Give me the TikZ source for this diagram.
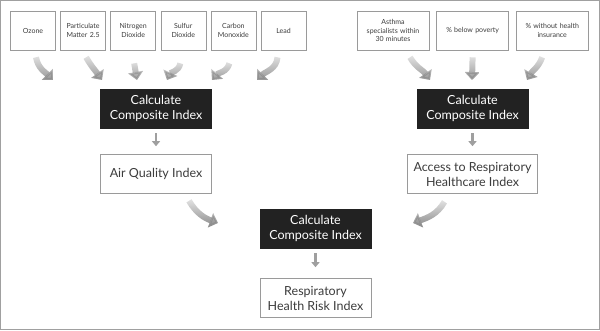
\documentclass[tikz,border=0pt]{standalone}
\usepackage{fontspec}
\setmainfont{Lato}
\usepackage{tikz}
\usetikzlibrary{
arrows.meta,
positioning,
fadings
}
\definecolor{framegray}{HTML}{A0A0A0}
\definecolor{boxline}{HTML}{9A9A9A}
\definecolor{boxtext}{HTML}{3C3C3C}
\definecolor{darkfill}{HTML}{222222}
\definecolor{arrowgray}{HTML}{8E8E8E}
\tikzfading[name=fadetop, top color=transparent!78, bottom color=transparent!0]

\begin{document}
\begin{tikzpicture}[
x=1pt,y=1pt,
source/.style={
rectangle,
draw=boxline,
fill=white,
line width=0.6pt,
minimum width=45pt,
minimum height=39pt,
text width=43pt,
inner sep=1pt,
align=center,
text=boxtext,
font=\fontsize{7}{8.5}\selectfont
},
factor/.style={
source,
minimum width=72pt,
text width=68pt
},
calc/.style={
rectangle,
draw=darkfill,
fill=darkfill,
minimum width=111pt,
minimum height=39pt,
align=center,
text=white,
font=\fontsize{12.5}{15}\selectfont
},
result/.style={
rectangle,
draw=boxline,
fill=white,
line width=0.6pt,
minimum width=111pt,
minimum height=39pt,
align=center,
text=boxtext,
font=\fontsize{12.5}{15}\selectfont
},
flow/.style={line width=6pt, arrowgray, -{Triangle[length=8pt,width=15pt]}, path fading=fadetop},
nextarrow/.style={line width=2.5pt, arrowgray!85, -{Triangle[length=5pt,width=8pt]}}
]

\useasboundingbox (0,0) rectangle (600,-330);
\draw[framegray, line width=1pt] (0.5,-0.5) rectangle (599.5,-329.5);

% pollutants
\node[source] (ozone) at (33,-30.5) {Ozone};
\node[source, right=4.5pt of ozone] (pm) {Particulate\\Matter 2.5};
\node[source, right=4.5pt of pm] (no2) {Nitrogen\\Dioxide};
\node[source, right=4.5pt of no2] (so2) {Sulfur\\Dioxide};
\node[source, right=4.5pt of so2] (co) {Carbon\\Monoxide};
\node[source, right=4.5pt of co] (lead) {Lead};

% access factors
\node[factor] (asthma) at (393,-30.5) {Asthma\\specialists within\\30 minutes};
\node[factor, right=7pt of asthma] (poverty) {\% below poverty};
\node[factor, right=7pt of poverty] (uninsured) {\% without health\\insurance};

\node[calc] (calcair) at (156,-108.5) {Calculate\\Composite Index};
\node[result, below=26pt of calcair] (aqi) {Air Quality Index};

\node[calc] (calcaccess) at (472.5,-108.5) {Calculate\\Composite Index};
\node[result, below=26pt of calcaccess, minimum width=130pt] (access)
{Access to Respiratory\\Healthcare Index};

\node[calc] (calcrisk) at (315.5,-228.5) {Calculate\\Composite Index};
\node[result, below=30pt of calcrisk] (risk) {Respiratory\\Health Risk Index};

% arrow ends
\coordinate (in1) at (53,-80);
\coordinate (in2) at (102,-80);
\coordinate (in3) at (137,-80);
\coordinate (in4) at (167,-80);
\coordinate (in5) at (212,-80);
\coordinate (in6) at (257,-80);
\coordinate (in7) at (430,-80);
\coordinate (in8) at (472,-80);
\coordinate (in9) at (527,-80);
\coordinate (in10) at (218,-223);
\coordinate (in11) at (413,-223);

\draw[flow] ([shift={(3pt,-7pt)}]ozone.south) to[out=-80,in=135] (in1);
\draw[flow] ([shift={(3pt,-7pt)}]pm.south) to[out=-60,in=125] (in2);
\draw[flow] ([shift={(1pt,-13pt)}]no2.south) to[out=-80,in=100] (in3);
\draw[flow] ([shift={(-3pt,-13pt)}]so2.south) to[out=-100,in=65] (in4);
\draw[flow] ([shift={(-4pt,-13pt)}]co.south) to[out=-105,in=50] (in5);
\draw[flow] ([shift={(-6pt,-7pt)}]lead.south) to[out=-95,in=45] (in6);

\draw[flow] ([shift={(17pt,-7pt)}]asthma.south) to[out=-60,in=125] (in7);
\draw[flow] ([yshift=-7pt]poverty.south) -- (in8);
\draw[flow] ([shift={(-10pt,-7pt)}]uninsured.south) to[out=-110,in=60] (in9);

\draw[flow] ([shift={(33pt,-7pt)}]aqi.south) to[out=-60,in=160] (in10);
\draw[flow] ([shift={(-28pt,-8pt)}]access.south) to[out=-120,in=20] (in11);

\draw[nextarrow] ([yshift=-5pt]calcair.south) -- ([yshift=8pt]aqi.north);
\draw[nextarrow] ([yshift=-5pt]calcaccess.south) -- ([yshift=8pt]access.north);
\draw[nextarrow] ([yshift=-5pt]calcrisk.south) -- ([yshift=11pt]risk.north);

\end{tikzpicture}
\end{document}
